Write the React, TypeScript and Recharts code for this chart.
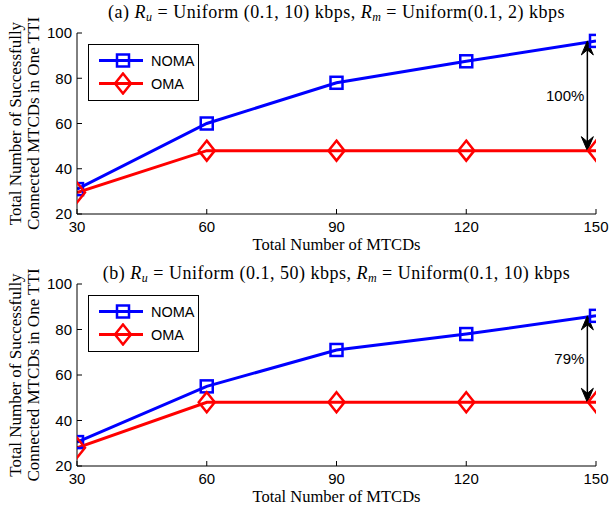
import { LineChart, Line, XAxis, YAxis, Legend, ReferenceLine } from 'recharts'

const mtcds = [30, 60, 90, 120, 150]
const nomaA = [31, 60, 78, 87.5, 96.5]
const omaA = [29.5, 48, 48, 48, 48]
const nomaB = [30.5, 55, 71, 78, 86]
const omaB = [28, 48, 48, 48, 48]
const xTicks = [30, 60, 90, 120, 150]
const yTicks = [20, 40, 60, 80, 100]
const gapX = [148, 148]
const gapHigh = [96.5, 86]
const gapLow = [48, 48]
const gapText = ['100%', '79%']

const SANS = 'Liberation Sans, Arial, sans-serif'
const SERIF = 'Liberation Serif, Times New Roman, serif'
const BLUE = '#0000ff'
const RED = '#ff0000'

const W = 610
const H = 257

const Square = ({ cx, cy, color }: { cx: number; cy: number; color: string }) => (
  <rect x={cx - 6} y={cy - 6} width={12} height={12} fill="none" stroke={color} strokeWidth={2.5} />
)

const Diamond = ({ cx, cy, color }: { cx: number; cy: number; color: string }) => (
  <path
    d={`M${cx} ${cy - 10}L${cx + 8} ${cy}L${cx} ${cy + 10}L${cx - 8} ${cy}Z`}
    fill="none"
    stroke={color}
    strokeWidth={2.5}
  />
)

const markers: Record<string, (cx: number, cy: number) => JSX.Element> = {
  NOMA: (cx, cy) => <Square cx={cx} cy={cy} color={BLUE} />,
  OMA: (cx, cy) => <Diamond cx={cx} cy={cy} color={RED} />,
}

function LegendBox({ payload }: any) {
  return (
    <div
      style={{
        border: '1px solid #000',
        background: '#fff',
        width: 109,
        height: 51,
        paddingTop: 4,
        boxSizing: 'content-box',
      }}
    >
      {(payload ?? []).map((p: any) => (
        <div key={p.value} style={{ display: 'flex', alignItems: 'center', height: 23 }}>
          <svg width={60} height={23} style={{ display: 'block' }}>
            <line x1={10} y1={11.5} x2={54} y2={11.5} stroke={p.color} strokeWidth={3} />
            {markers[p.value]?.(34, 11.5)}
          </svg>
          <span style={{ fontFamily: SANS, fontSize: 14.5, color: '#000', marginLeft: 2 }}>{p.value}</span>
        </div>
      ))}
    </div>
  )
}

function GapArrow(props: any) {
  const { x1, y1, x2, y2, text } = props
  const top = Math.min(y1, y2)
  const bot = Math.max(y1, y2)
  const x = x1
  return (
    <g>
      <line x1={x} y1={top + 8} x2={x2} y2={bot - 8} stroke="#000" strokeWidth={1.5} />
      <path d={`M${x} ${top}L${x - 6} ${top + 14}L${x} ${top + 9}L${x + 6} ${top + 14}Z`} fill="#000" stroke="#000" />
      <path d={`M${x} ${bot}L${x - 6} ${bot - 14}L${x} ${bot - 9}L${x + 6} ${bot - 14}Z`} fill="#000" stroke="#000" />
      <text x={x - 3} y={(top + bot) / 2 + 5} textAnchor="end" fontFamily={SANS} fontSize={15} fill="#000">
        {text}
      </text>
    </g>
  )
}

function YLabel({ viewBox }: any) {
  const cy = viewBox.y + viewBox.height / 2
  return (
    <g fontFamily={SERIF} fontSize={17} fill="#000">
      <text transform={`translate(21 ${cy}) rotate(-90)`} textAnchor="middle">
        Total Number of Successfully
      </text>
      <text transform={`translate(39 ${cy}) rotate(-90)`} textAnchor="middle">
        Connected MTCDs in One TTI
      </text>
    </g>
  )
}

type PanelProps = {
  tag: string
  ru: string
  rm: string
  noma: number[]
  oma: number[]
  gap: number
  margin: { top: number; right: number; bottom: number; left: number }
  titleY: number
}

function Panel({ tag, ru, rm, noma, oma, gap, margin, titleY }: PanelProps) {
  const data = mtcds.map((m, i) => ({ mtcd: m, noma: noma[i], oma: oma[i] }))
  const cx = margin.left + 40 + (W - margin.left - 40 - margin.right) / 2
  return (
    <LineChart width={W} height={H} data={data} margin={margin}>
      <text
        x={cx}
        y={titleY}
        textAnchor="middle"
        fontFamily={SERIF}
        fontSize={18}
        letterSpacing={0.5}
        fill="#000"
      >
        {`${tag} `}
        <tspan fontStyle="italic">R</tspan>
        <tspan fontStyle="italic" fontSize={12} dy={3}>u</tspan>
        <tspan dy={-3}>{` = Uniform ${ru} kbps, `}</tspan>
        <tspan fontStyle="italic">R</tspan>
        <tspan fontStyle="italic" fontSize={12} dy={3}>m</tspan>
        <tspan dy={-3}>{` = Uniform${rm} kbps`}</tspan>
      </text>
      <XAxis
        dataKey="mtcd"
        type="number"
        domain={[30, 150]}
        ticks={xTicks}
        allowDataOverflow
        height={30}
        tickSize={-5}
        tickMargin={12}
        tick={{ fill: '#000', fontSize: 15, fontFamily: SANS }}
        axisLine={{ stroke: '#000' }}
        tickLine={{ stroke: '#000' }}
        label={{
          value: 'Total Number of MTCDs',
          position: 'insideBottom',
          offset: -6,
          fill: '#000',
          fontSize: 16.5,
          fontFamily: SERIF,
        }}
      />
      <XAxis
        xAxisId="top"
        orientation="top"
        type="number"
        domain={[30, 150]}
        ticks={xTicks}
        allowDataOverflow
        height={0}
        tickSize={-5}
        tick={false}
        axisLine={{ stroke: '#000' }}
        tickLine={{ stroke: '#000' }}
      />
      <YAxis
        type="number"
        domain={[20, 100]}
        ticks={yTicks}
        allowDataOverflow
        width={40}
        tickSize={-5}
        tickMargin={10}
        tick={{ fill: '#000', fontSize: 15, fontFamily: SANS }}
        axisLine={{ stroke: '#000' }}
        tickLine={{ stroke: '#000' }}
        label={{ content: YLabel }}
      />
      <YAxis
        yAxisId="right"
        orientation="right"
        type="number"
        domain={[20, 100]}
        ticks={yTicks}
        allowDataOverflow
        width={0}
        tickSize={-5}
        tick={false}
        axisLine={{ stroke: '#000' }}
        tickLine={{ stroke: '#000' }}
      />
      <Legend
        layout="vertical"
        align="center"
        verticalAlign="middle"
        content={<LegendBox />}
        wrapperStyle={{ left: 88, top: margin.top + 11, width: 'auto', height: 'auto' }}
      />
      <Line
        name="NOMA"
        dataKey="noma"
        stroke={BLUE}
        strokeWidth={3}
        isAnimationActive={false}
        dot={(p: any) => <Square key={`n${p.index}`} cx={p.cx} cy={p.cy} color={BLUE} />}
      />
      <Line
        name="OMA"
        dataKey="oma"
        stroke={RED}
        strokeWidth={3}
        isAnimationActive={false}
        dot={(p: any) => <Diamond key={`o${p.index}`} cx={p.cx} cy={p.cy} color={RED} />}
      />
      <ReferenceLine
        segment={[
          { x: gapX[gap], y: gapHigh[gap] },
          { x: gapX[gap], y: gapLow[gap] },
        ]}
        ifOverflow="visible"
        shape={(p: any) => <GapArrow {...p} text={gapText[gap]} />}
      />
    </LineChart>
  )
}

export default function App() {
  return (
    <div style={{ position: 'absolute', left: 0, top: 0, width: W, height: 514, background: '#fff' }}>
      <Panel
        tag="(a)"
        ru="(0.1, 10)"
        rm="(0.1, 2)"
        noma={nomaA}
        oma={omaA}
        gap={0}
        margin={{ top: 33, right: 14, bottom: 13, left: 37 }}
        titleY={18}
      />
      <Panel
        tag="(b)"
        ru="(0.1, 50)"
        rm="(0.1, 10)"
        noma={nomaB}
        oma={omaB}
        gap={1}
        margin={{ top: 27, right: 14, bottom: 18, left: 37 }}
        titleY={22}
      />
    </div>
  )
}
